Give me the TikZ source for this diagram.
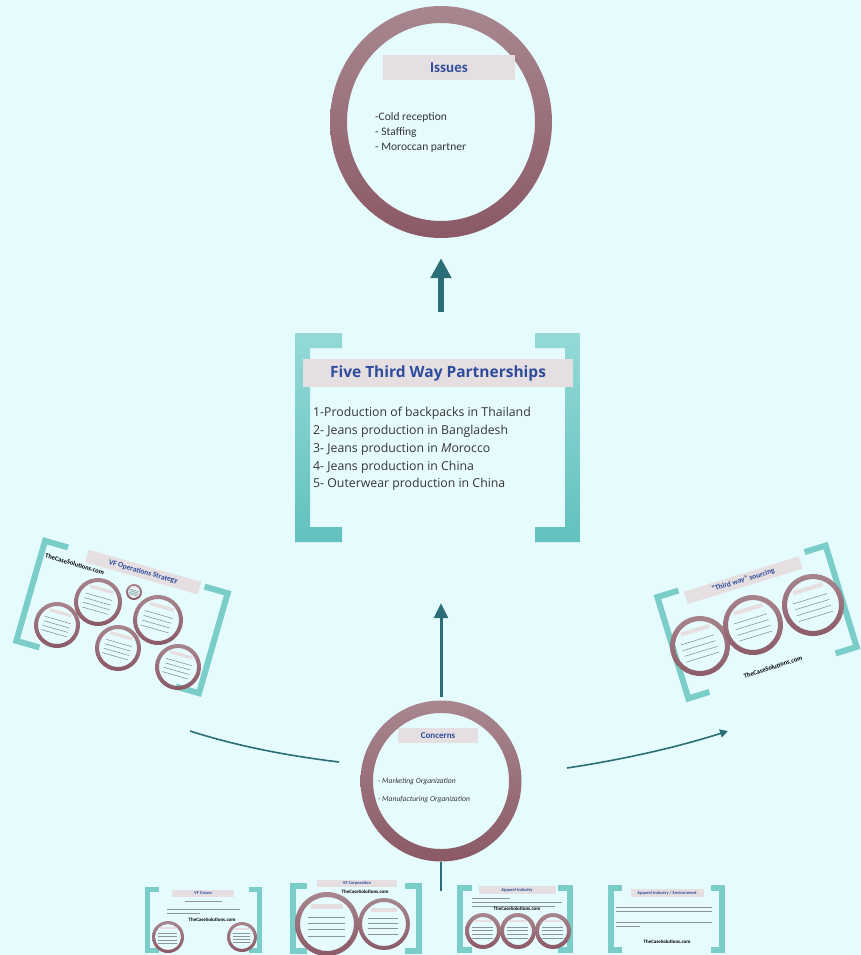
\documentclass[tikz,border=0pt]{standalone}
\usepackage{fontspec}
\setmainfont{Carlito}
\newfontfamily\osans{Open Sans}
\usetikzlibrary{arrows.meta,calc}
\definecolor{bgc}{HTML}{E6FBFD}
\definecolor{ringtop}{HTML}{A8878F}
\definecolor{ringbot}{HTML}{8B5966}
\definecolor{tealtop}{HTML}{93DAD7}
\definecolor{tealbot}{HTML}{62C1BD}
\definecolor{tealthumb}{HTML}{7ACDC9}
\definecolor{boxc}{HTML}{E6DFE1}
\definecolor{titleblue}{HTML}{2D4C9C}
\definecolor{arrowc}{HTML}{2B6E77}
\definecolor{txt}{HTML}{353535}
\definecolor{faint}{HTML}{8C9699}
\tikzset{
 ringshade/.style={top color=ringtop,bottom color=ringbot},
 bracketshade/.style={top color=tealtop,bottom color=tealbot},
 titlebox/.style={fill=boxc,inner sep=0pt,text=titleblue},
 item/.style={anchor=base west,inner sep=0pt,text=txt},
 bigarrow/.style={draw=arrowc,line width=6pt,-{Triangle[width=20pt,length=20pt]}},
 midarrow/.style={draw=arrowc,line width=3pt,-{Triangle[width=14pt,length=15pt]}},
 curveline/.style={draw=arrowc,line width=1.6pt},
 tline/.style={draw=faint,line width=0.6pt},
 tinybrand/.style={inner sep=0pt,text=black,font=\bfseries\fontsize{5}{6}\selectfont},
 tinytitle/.style={fill=boxc,inner sep=0pt,text=titleblue,font=\bfseries\fontsize{4.5}{5}\selectfont},
}
\newcommand\minicirc[5]{%
 \begin{scope}[shift={(#1,#2)},rotate=#5]
 \shade[ringshade,even odd rule] (0,0) circle [radius=#3pt] (0,0) circle [radius=#3pt-#4pt];
 \fill[boxc] (-0.5*#3,-0.62*#3) rectangle (0.5*#3,-0.48*#3);
 \foreach \k in {0,1,2,3} {\draw[tline] (-0.6*#3,{-0.22*#3+\k*0.2*#3}) -- (0.55*#3,{-0.22*#3+\k*0.2*#3});}
 \end{scope}}
\newcommand\brk[6]{%
 \draw[tealthumb,line width=#5pt,line join=miter] ({#1+#6},#3) -- (#1,#3) -- (#1,#4) -- ({#1+#6},#4);
 \draw[tealthumb,line width=#5pt,line join=miter] ({#2-#6},#3) -- (#2,#3) -- (#2,#4) -- ({#2-#6},#4);}
\begin{document}
\begin{tikzpicture}[x=1pt,y=-1pt]
\fill[bgc] (0,0) rectangle (861,955);
\useasboundingbox (0,0) rectangle (861,955);

% ---------- Issues ----------
\shade[ringshade,even odd rule] (441,122) ellipse [x radius=111pt, y radius=116pt] (441,122) ellipse [x radius=94pt, y radius=99pt];
\node[inner sep=0pt,minimum width=222pt,minimum height=232pt] (issues) at (441,122) {};
\node[titlebox,minimum width=132pt,minimum height=25pt,font=\bfseries\fontsize{15}{18}\selectfont] (issuestitle) at (449,67.5) {Issues};
\node[item,font=\fontsize{11.5}{13}\selectfont] (iss1) at (375,121) {-Cold reception};
\node[item,font=\fontsize{11.5}{13}\selectfont] (iss2) at (375,135.5) {- Staffing};
\node[item,font=\fontsize{11.5}{13}\selectfont] (iss3) at (375,150) {- Moroccan partner};

% ---------- Five Third Way Partnerships ----------
\shade[bracketshade] (295,333) -- (342,333) -- (342,348) -- (310,348) -- (310,527) -- (342,527) -- (342,542) -- (295,542) -- cycle;
\shade[bracketshade] (580,333) -- (535,333) -- (535,348) -- (565,348) -- (565,527) -- (535,527) -- (535,542) -- (580,542) -- cycle;
\node[inner sep=0pt,minimum width=285pt,minimum height=209pt] (five) at (437.5,437.5) {};
\node[titlebox,minimum width=270pt,minimum height=28pt,font=\osans\bfseries\fontsize{15.5}{18}\selectfont] (fivetitle) at (438,373) {Five Third Way Partnerships};
\node[item,font=\osans\fontsize{12.3}{14}\selectfont] (f1) at (313,416) {1-Production of backpacks in Thailand};
\node[item,font=\osans\fontsize{12.3}{14}\selectfont] (f2) at (313,434) {2- Jeans production in Bangladesh};
\node[item,font=\osans\fontsize{12.3}{14}\selectfont] (f3) at (313,452) {3- Jeans production in \textit{M}orocco};
\node[item,font=\osans\fontsize{12.3}{14}\selectfont] (f4) at (313,470) {4- Jeans production in China};
\node[item,font=\osans\fontsize{12.3}{14}\selectfont] (f5) at (313,487.5) {5- Outerwear production in China};

\draw[bigarrow,shorten <=21pt,shorten >=20pt] (five.north -| issues.south) -- (issues.south);

% ---------- Concerns ----------
\shade[ringshade,even odd rule] (441,781) circle [radius=80.5pt] (441,781) circle [radius=68pt];
\node[circle,inner sep=0pt,minimum size=161pt] (concerns) at (441,781) {};
\node[titlebox,minimum width=80pt,minimum height=15pt,font=\bfseries\fontsize{9}{10}\selectfont] (conctitle) at (438,735.5) {Concerns};
\node[item,font=\itshape\fontsize{7.6}{9}\selectfont] (c1) at (378,783) {- Marketing Organization};
\node[item,font=\itshape\fontsize{7.6}{9}\selectfont] (c2) at (378,801) {- Manufacturing Organization};

\draw[midarrow,shorten <=3.5pt,shorten >=61pt] (concerns.north) -- (five.south -| concerns.north);
\coordinate (downend) at (441,891);
\draw[draw=arrowc,line width=1.4pt] (concerns.south) -- (downend);

% ---------- curves ----------
\coordinate (lcs) at (190,731);
\coordinate (lce) at (339,762);
\draw[curveline] (lcs) .. controls (240,747) and (290,756) .. (lce);
\coordinate (rcs) at (567,768);
\coordinate (rce) at (728,731);
\draw[curveline,-{Triangle[width=8pt,length=8pt]}] (rcs) .. controls (620,760) and (675,748) .. (rce);

% ---------- left thumbnail: VF Operations Strategy ----------
\begin{scope}[shift={(122,617)},rotate=-16]
 \brk{-95}{95}{-52}{52}{6}{24}
 \node[tinytitle,transform shape,minimum width=117pt,minimum height=13pt,font=\bfseries\fontsize{7.5}{8}\selectfont] (opstitle) at (8,-49) {VF Operations Strategy};
 \node[tinybrand,transform shape,font=\bfseries\fontsize{6.5}{7}\selectfont] (opsbrand) at (-60,-38) {TheCaseSolutions.com};
\end{scope}
\minicirc{57}{625}{23}{4}{-16}
\minicirc{98}{602}{24}{4}{-16}
\minicirc{134}{592}{8}{2}{-16}
\minicirc{158}{620}{25}{4}{-16}
\minicirc{118}{648}{23}{4}{-16}
\minicirc{178}{667}{23}{4}{-16}

% ---------- right thumbnail: Third way sourcing ----------
\begin{scope}[shift={(757,622)},rotate=17]
 \brk{-88}{88}{-53}{53}{6}{22}
 \node[tinytitle,transform shape,minimum width=120pt,minimum height=13pt,font=\bfseries\fontsize{7.5}{8}\selectfont] (twtitle) at (-1,-44) {``Third way'' sourcing};
\end{scope}
\node[tinybrand,rotate=17,font=\bfseries\fontsize{6.5}{7}\selectfont] (twbrand) at (773,667) {TheCaseSolutions.com};
\minicirc{700}{646}{30}{5}{17}
\minicirc{753}{625}{30}{5}{17}
\minicirc{813}{605}{31}{5}{17}

% ---------- bottom thumbnails ----------
% VF Grows
\brk{147.5}{259.5}{889.5}{950.5}{5}{11}
\node[tinytitle,minimum width=62pt,minimum height=7pt] (t1title) at (203,893.5) {VF Grows};
\draw[tline] (185,901) -- (222,901);
\draw[tline] (167,909) -- (240,909);
\draw[tline] (167,913) -- (200,913);
\node[tinybrand] (t1brand) at (212,919.5) {TheCaseSolutions.com};
\minicirc{168}{937}{16}{3}{0}
\minicirc{242}{937}{15}{3}{0}

% VF Corporation
\brk{293}{419}{886}{951}{6}{14}
\node[tinytitle,minimum width=80pt,minimum height=7pt] (t2title) at (357,883.5) {VF Corporation};
\node[tinybrand] (t2brand) at (365,892) {TheCaseSolutions.com};
\minicirc{327}{924}{32}{5}{0}
\minicirc{384}{924}{26}{4}{0}

% Apparel Industry
\brk{460}{570}{887.5}{950}{6}{12}
\node[tinytitle,minimum width=77pt,minimum height=8pt] (t3title) at (517,890) {Apparel Industry};
\draw[tline] (472,898) -- (510,898);
\draw[tline] (472,902) -- (562,902);
\draw[tline] (472,906) -- (555,906);
\node[tinybrand] (t3brand) at (517,909) {TheCaseSolutions.com};
\minicirc{483}{931}{18}{4}{0}
\minicirc{518}{931}{18}{4}{0}
\minicirc{553}{931}{18}{4}{0}

% Apparel Industry / Environment
\brk{611}{722}{887.5}{950}{6}{11}
\node[tinytitle,minimum width=73pt,minimum height=8pt] (t4title) at (667,893) {Apparel Industry / Environment};
\draw[tline] (616,907) -- (712,907);
\draw[tline] (616,911) -- (712,911);
\draw[tline] (616,922) -- (712,922);
\draw[tline] (616,926) -- (640,926);
\node[tinybrand] (t4brand) at (667,942) {TheCaseSolutions.com};
\end{tikzpicture}
\end{document}
